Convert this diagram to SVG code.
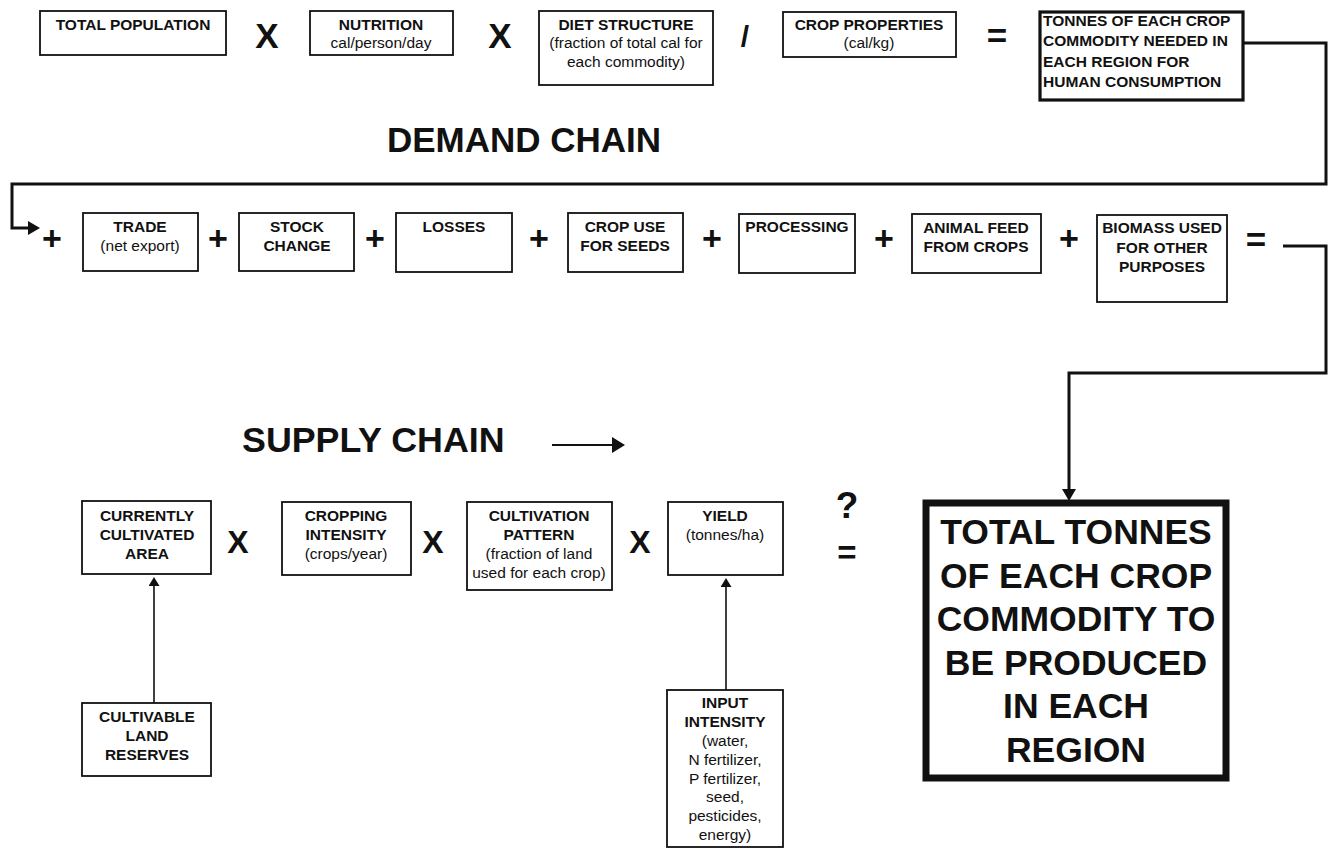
<svg xmlns="http://www.w3.org/2000/svg" width="1336" height="849" viewBox="0 0 1336 849">
<style>
.box{fill:#fff;stroke:#111;stroke-width:1.8}
.thick{fill:#fff;stroke:#111;stroke-width:3.2}
.heavy{fill:#fff;stroke:#111;stroke-width:7}
text{font-family:"Liberation Sans",Arial,sans-serif;fill:#111}
.b{font-weight:bold;font-size:15.5px;text-anchor:middle}
.r{font-size:15.5px;text-anchor:middle}
.bl{font-weight:bold;font-size:15.5px;text-anchor:start}
.op{font-weight:bold;font-size:35px;text-anchor:middle}
.pl{font-weight:bold;font-size:34px;text-anchor:middle}
.ox{font-weight:bold;font-size:32px;text-anchor:middle}
.title{font-weight:bold;font-size:35px}
.big{font-weight:bold;font-size:35.5px;text-anchor:middle}
.wire{fill:none;stroke:#111;stroke-width:3}
.thin{fill:none;stroke:#111;stroke-width:1.6}
.mid{fill:none;stroke:#111;stroke-width:2.2}
</style>
<defs>
<marker id="ahBig" markerUnits="userSpaceOnUse" markerWidth="13" markerHeight="15" refX="0" refY="7" orient="auto"><path d="M0,0 L12,7 L0,14 z" fill="#111"/></marker>
<marker id="ahMed" markerUnits="userSpaceOnUse" markerWidth="14" markerHeight="17" refX="0" refY="8" orient="auto"><path d="M0,0 L13,8 L0,16 z" fill="#111"/></marker>
<marker id="ahSmall" markerUnits="userSpaceOnUse" markerWidth="10" markerHeight="12" refX="0" refY="5.5" orient="auto"><path d="M0,0 L9,5.5 L0,11 z" fill="#111"/></marker>
</defs>

<g id="connectors">
<path class="wire" d="M1243,43 H1326 V184 H12 V228 H28" marker-end="url(#ahBig)"/>
<path class="wire" d="M1283,246 H1326 V373 H1069 V489" marker-end="url(#ahBig)"/>
<path class="mid" d="M552,445 H612" marker-end="url(#ahMed)"/>
<path class="thin" d="M154,703 V586" marker-end="url(#ahSmall)"/>
<path class="thin" d="M726,690 V587" marker-end="url(#ahSmall)"/>
</g>

<g id="operators">
<text class="op" x="267" y="48">X</text>
<text class="op" x="500" y="48">X</text>
<text class="op" x="745" y="47" style="font-size:30px">/</text>
<text class="op" x="997" y="48">=</text>
<text class="pl" x="52" y="250">+</text>
<text class="pl" x="218" y="250">+</text>
<text class="pl" x="375" y="250">+</text>
<text class="pl" x="539" y="250">+</text>
<text class="pl" x="712" y="250">+</text>
<text class="pl" x="884" y="250">+</text>
<text class="pl" x="1069" y="250">+</text>
<text class="op" x="1256" y="252">=</text>
<text class="ox" x="238" y="553">X</text>
<text class="ox" x="433" y="553">X</text>
<text class="ox" x="640" y="553">X</text>
<text class="op" x="847" y="518" style="font-size:37px">?</text>
<text class="op" x="847" y="564" style="font-size:33px">=</text>
</g>

<g id="titles">
<text class="title" x="524" y="152" text-anchor="middle">DEMAND CHAIN</text>
<text class="title" x="242" y="452" style="font-size:35.8px">SUPPLY CHAIN</text>
</g>

<g id="total-population">
<rect class="box" x="40" y="11" width="186" height="44"/>
<text class="b" x="133" y="30">TOTAL POPULATION</text>
</g>
<g id="nutrition">
<rect class="box" x="310" y="11" width="143" height="44"/>
<text class="b" x="381" y="30">NUTRITION</text>
<text class="r" x="381" y="48">cal/person/day</text>
</g>
<g id="diet-structure">
<rect class="box" x="539" y="11" width="174" height="74"/>
<text class="b" x="626" y="30">DIET STRUCTURE</text>
<text class="r" x="626" y="48">(fraction of total cal for</text>
<text class="r" x="626" y="67">each commodity)</text>
</g>
<g id="crop-properties">
<rect class="box" x="783" y="12" width="173" height="45"/>
<text class="b" x="869" y="30">CROP PROPERTIES</text>
<text class="r" x="869" y="48">(cal/kg)</text>
</g>
<g id="tonnes-needed">
<rect class="thick" x="1040" y="12" width="203" height="88"/>
<text class="bl" x="1043" y="26">TONNES OF EACH CROP</text>
<text class="bl" x="1043" y="46">COMMODITY NEEDED IN</text>
<text class="bl" x="1043" y="67">EACH REGION FOR</text>
<text class="bl" x="1043" y="87">HUMAN CONSUMPTION</text>
</g>

<g id="trade">
<rect class="box" x="83" y="213" width="115" height="58"/>
<text class="b" x="140" y="232">TRADE</text>
<text class="r" x="140" y="251">(net export)</text>
</g>
<g id="stock-change">
<rect class="box" x="239" y="213" width="115" height="58"/>
<text class="b" x="297" y="232">STOCK</text>
<text class="b" x="297" y="251">CHANGE</text>
</g>
<g id="losses">
<rect class="box" x="396" y="213" width="116" height="59"/>
<text class="b" x="454" y="232">LOSSES</text>
</g>
<g id="crop-use-seeds">
<rect class="box" x="568" y="213" width="115" height="59"/>
<text class="b" x="625" y="232">CROP USE</text>
<text class="b" x="625" y="251">FOR SEEDS</text>
</g>
<g id="processing">
<rect class="box" x="739" y="214" width="116" height="59"/>
<text class="b" x="797" y="232">PROCESSING</text>
</g>
<g id="animal-feed">
<rect class="box" x="912" y="214" width="129" height="59"/>
<text class="b" x="976" y="233">ANIMAL FEED</text>
<text class="b" x="976" y="252">FROM CROPS</text>
</g>
<g id="biomass">
<rect class="box" x="1097" y="215" width="130" height="87"/>
<text class="b" x="1162" y="233">BIOMASS USED</text>
<text class="b" x="1162" y="253">FOR OTHER</text>
<text class="b" x="1162" y="272">PURPOSES</text>
</g>

<g id="currently-cultivated">
<rect class="box" x="82" y="501" width="129" height="73"/>
<text class="b" x="147" y="521">CURRENTLY</text>
<text class="b" x="147" y="540">CULTIVATED</text>
<text class="b" x="147" y="559">AREA</text>
</g>
<g id="cropping-intensity">
<rect class="box" x="282" y="502" width="129" height="73"/>
<text class="b" x="346" y="521">CROPPING</text>
<text class="b" x="346" y="540">INTENSITY</text>
<text class="r" x="346" y="559">(crops/year)</text>
</g>
<g id="cultivation-pattern">
<rect class="box" x="467" y="502" width="145" height="88"/>
<text class="b" x="539" y="521">CULTIVATION</text>
<text class="b" x="539" y="540">PATTERN</text>
<text class="r" x="539" y="559">(fraction of land</text>
<text class="r" x="539" y="578">used for each crop)</text>
</g>
<g id="yield">
<rect class="box" x="668" y="502" width="115" height="73"/>
<text class="b" x="725" y="521">YIELD</text>
<text class="r" x="725" y="540">(tonnes/ha)</text>
</g>
<g id="cultivable-land">
<rect class="box" x="82" y="703" width="129" height="73"/>
<text class="b" x="147" y="722">CULTIVABLE</text>
<text class="b" x="147" y="741">LAND</text>
<text class="b" x="147" y="760">RESERVES</text>
</g>
<g id="input-intensity">
<rect class="box" x="667" y="690" width="116" height="157"/>
<text class="b" x="725" y="708">INPUT</text>
<text class="b" x="725" y="727">INTENSITY</text>
<text class="r" x="725" y="746">(water,</text>
<text class="r" x="725" y="765">N fertilizer,</text>
<text class="r" x="725" y="784">P fertilizer,</text>
<text class="r" x="725" y="802">seed,</text>
<text class="r" x="725" y="821">pesticides,</text>
<text class="r" x="725" y="840">energy)</text>
</g>
<g id="total-tonnes">
<rect class="heavy" x="926" y="503" width="300" height="275"/>
<text class="big" x="1076" y="544">TOTAL TONNES</text>
<text class="big" x="1076" y="588">OF EACH CROP</text>
<text class="big" x="1076" y="631">COMMODITY TO</text>
<text class="big" x="1076" y="675">BE PRODUCED</text>
<text class="big" x="1076" y="718">IN EACH</text>
<text class="big" x="1076" y="762">REGION</text>
</g>
</svg>
